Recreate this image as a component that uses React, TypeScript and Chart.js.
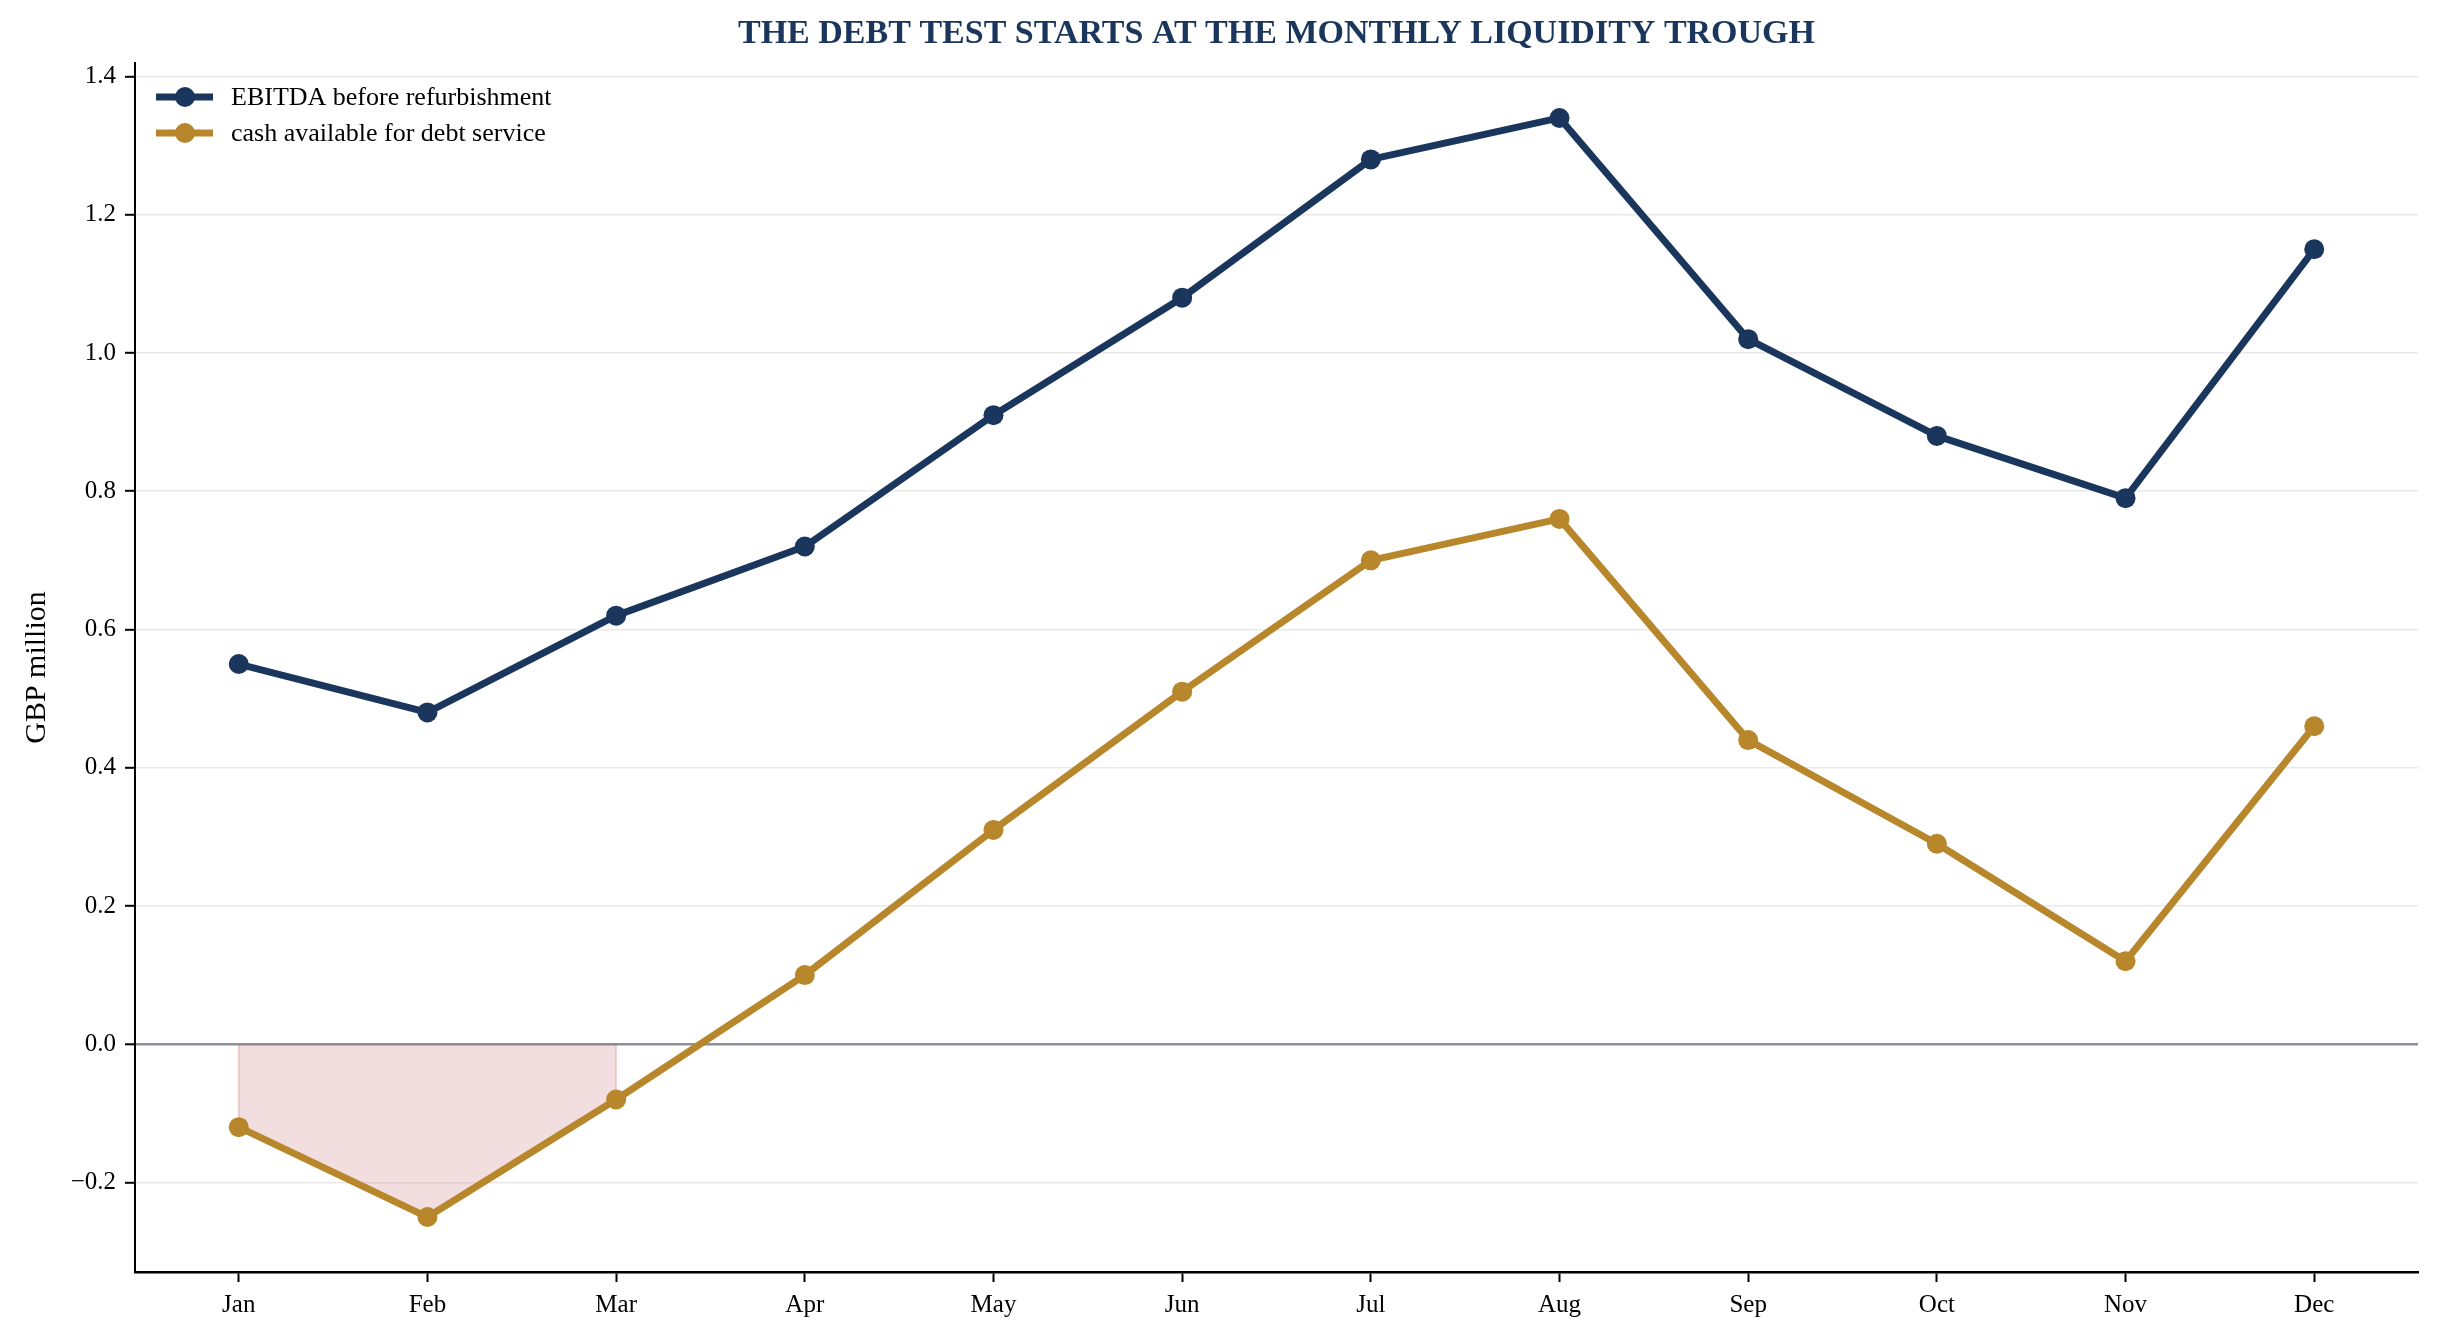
import { useEffect, useRef } from "react";
import { Chart, registerables } from "chart.js";

Chart.register(...registerables);

const months = ["Jan", "Feb", "Mar", "Apr", "May", "Jun", "Jul", "Aug", "Sep", "Oct", "Nov", "Dec"];
const ebitdaBeforeRefurb = [0.55, 0.48, 0.62, 0.72, 0.91, 1.08, 1.28, 1.34, 1.02, 0.88, 0.79, 1.15];
const cashForDebtService = [-0.12, -0.25, -0.08, 0.10, 0.31, 0.51, 0.70, 0.76, 0.44, 0.29, 0.12, 0.46];
const yTickValues = [-0.2, 0.0, 0.2, 0.4, 0.6, 0.8, 1.0, 1.2, 1.4];
const seriesLabels = ["EBITDA before refurbishment", "cash available for debt service"];
const titleText = "THE DEBT TEST STARTS AT THE MONTHLY LIQUIDITY TROUGH";
const yAxisLabel = "GBP million";

const NAVY = "#1a365d";
const GOLD = "#b8862b";
const SERIF = "'Liberation Serif', 'Times New Roman', Times, serif";

function troughPolygon() {
  const pts: { x: number; y: number }[] = [];
  const neg = cashForDebtService.map((v, i) => ({ x: i, y: v })).filter((p) => p.y < 0);
  if (!neg.length) return pts;
  pts.push({ x: neg[0].x, y: 0 });
  neg.forEach((p) => pts.push(p));
  pts.push({ x: neg[neg.length - 1].x, y: 0 });
  return pts;
}

const decorPlugin = {
  id: "decor",
  afterDraw(chart: any) {
    const { ctx, chartArea } = chart;
    ctx.save();
    // title
    ctx.fillStyle = NAVY;
    ctx.font = `bold 34px ${SERIF}`;
    ctx.textAlign = "center";
    ctx.textBaseline = "alphabetic";
    ctx.fillText(titleText, (chartArea.left + chartArea.right) / 2, 43);
    // y label
    ctx.save();
    ctx.translate(45, (chartArea.top + chartArea.bottom) / 2);
    ctx.rotate(-Math.PI / 2);
    ctx.fillStyle = "#000";
    ctx.font = `30px ${SERIF}`;
    ctx.textAlign = "center";
    ctx.fillText(yAxisLabel, 0, 0);
    ctx.restore();
    // legend
    const colors = [NAVY, GOLD];
    seriesLabels.forEach((lab, i) => {
      const y = chartArea.top + 34 + i * 36;
      const x0 = chartArea.left + 21;
      ctx.strokeStyle = colors[i];
      ctx.lineWidth = 7;
      ctx.lineCap = "butt";
      ctx.beginPath();
      ctx.moveTo(x0, y);
      ctx.lineTo(x0 + 57, y);
      ctx.stroke();
      ctx.fillStyle = colors[i];
      ctx.beginPath();
      ctx.arc(x0 + 29, y, 10, 0, Math.PI * 2);
      ctx.fill();
      ctx.fillStyle = "#000";
      ctx.font = `26px ${SERIF}`;
      ctx.textAlign = "left";
      ctx.textBaseline = "alphabetic";
      ctx.fillText(lab, x0 + 75, y + 8);
    });
    ctx.restore();
  },
};

export default function App() {
  const ref = useRef<HTMLCanvasElement | null>(null);
  useEffect(() => {
    document.body.style.margin = "0";
    const chart = new Chart(ref.current as HTMLCanvasElement, {
      type: "line",
      data: {
        datasets: [
          {
            label: seriesLabels[0],
            data: ebitdaBeforeRefurb.map((v, i) => ({ x: i, y: v })),
            borderColor: NAVY,
            backgroundColor: NAVY,
            borderWidth: 7,
            borderJoinStyle: "round",
            pointRadius: 10,
            pointBorderWidth: 0,
            pointBackgroundColor: NAVY,
            fill: false,
            order: 1,
          },
          {
            label: seriesLabels[1],
            data: cashForDebtService.map((v, i) => ({ x: i, y: v })),
            borderColor: GOLD,
            backgroundColor: GOLD,
            borderWidth: 7,
            borderJoinStyle: "round",
            pointRadius: 10,
            pointBorderWidth: 0,
            pointBackgroundColor: GOLD,
            fill: false,
            order: 2,
          },
          {
            label: "trough",
            data: troughPolygon(),
            borderColor: "rgba(200,90,100,0.25)",
            borderWidth: 2,
            backgroundColor: "rgba(183,72,77,0.18)",
            pointRadius: 0,
            fill: { value: 0 },
            order: 3,
          },
        ],
      },
      options: {
        animation: false,
        responsive: true,
        maintainAspectRatio: false,
        layout: { padding: { top: 63, right: 22, left: 0, bottom: 0 } },
        plugins: {
          legend: { display: false },
          title: { display: false },
          tooltip: { enabled: false },
        },
        scales: {
          x: {
            type: "linear",
            min: -0.55,
            max: 11.55,
            afterBuildTicks: (s: any) => {
              s.ticks = months.map((_, i) => ({ value: i }));
            },
            afterFit: (s: any) => {
              s.height = 69;
            },
            ticks: {
              autoSkip: false,
              maxRotation: 0,
              padding: 8,
              color: "#000",
              font: { family: SERIF, size: 25 },
              callback: (v: any) => months[v] ?? "",
            },
            grid: {
              drawOnChartArea: false,
              drawTicks: true,
              tickLength: 10,
              tickColor: "#000",
              tickWidth: 2,
            },
            border: { display: true, color: "#000", width: 2.5 },
          },
          y: {
            type: "linear",
            min: -0.3295,
            max: 1.4195,
            afterBuildTicks: (s: any) => {
              s.ticks = yTickValues.map((v) => ({ value: v }));
            },
            afterFit: (s: any) => {
              s.width = 135;
            },
            ticks: {
              padding: 9,
              color: "#000",
              font: { family: SERIF, size: 25 },
              callback: (v: any) => {
                const n = Number(v);
                const s = Math.abs(n).toFixed(1);
                return n < -1e-9 ? "\u2212" + s : s;
              },
            },
            grid: {
              drawOnChartArea: true,
              color: (c: any) => (Math.abs(c.tick?.value ?? 1) < 1e-9 ? "#8c9199" : "#e9e9e9"),
              lineWidth: (c: any) => (Math.abs(c.tick?.value ?? 1) < 1e-9 ? 2.6 : 1.6),
              tickLength: 10,
              tickColor: "#000",
              tickWidth: 2,
            },
            border: { display: true, color: "#000", width: 2 },
          },
        },
      } as any,
      plugins: [decorPlugin],
    });
    return () => chart.destroy();
  }, []);
  return (
    <div style={{ position: "fixed", left: 0, top: 0, width: "100vw", height: "100vh", background: "#fff" }}>
      <canvas ref={ref} />
    </div>
  );
}
